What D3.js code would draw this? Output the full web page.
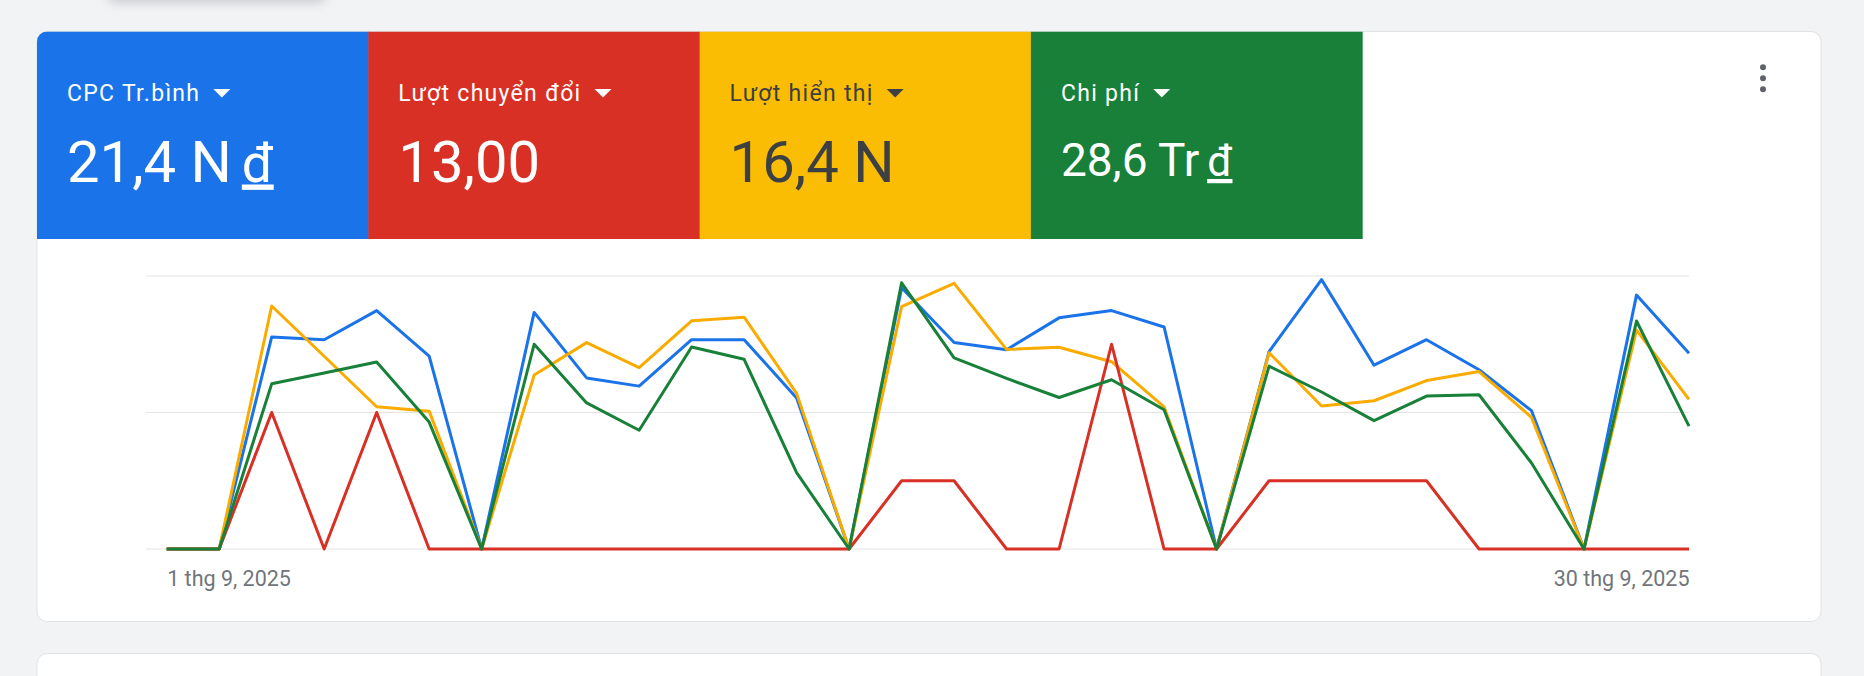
<!DOCTYPE html>
<html>
<head>
<meta charset="utf-8">
<script src="https://cdn.jsdelivr.net/npm/d3@7"></script>
<style>
  html, body { margin: 0; padding: 0; background: #f1f3f4; overflow: hidden; }
  svg { display: block; font-family: Roboto, "Noto Sans", Arial, sans-serif; }
</style>
</head>
<body>
<script>
// days of September 2025
var days = d3.range(1, 31);
var tickLabels = ["1 thg 9, 2025", "30 thg 9, 2025"];

// scorecards
var cardNames = ["CPC Tr.bình", "Lượt chuyển đổi", "Lượt hiển thị", "Chi phí"];
var cardValues = ["21,4 N", "13,00", "16,4 N", "28,6 Tr"];
var cardCurrency = ["đ", "", "", "đ"];

// series values (each metric has its own axis)
var cpc = [0, 0, 23.3, 23.0, 26.2, 21.2, 0, 26.0, 18.8, 17.9, 23.0, 23.0, 16.6, 0, 28.7,
           22.7, 21.9, 25.4, 26.2, 24.4, 0, 21.7, 29.6, 20.2, 23.0, 19.7, 15.2, 0, 27.9, 21.5]; // nghìn đ
var conversions = [0, 0, 2, 0, 2, 0, 0, 0, 0, 0, 0, 0, 0, 0, 1,
                   1, 0, 0, 3, 0, 0, 1, 1, 1, 1, 0, 0, 0, 0, 0];
var impressions = [0, 0, 890, 706, 521, 505, 0, 637, 756, 664, 836, 849, 570, 0, 888,
                   973, 731, 739, 686, 521, 0, 719, 524, 543, 617, 650, 482, 0, 802, 548];
var cost = [0, 0, 1.21, 1.29, 1.37, 0.93, 0, 1.50, 1.07, 0.87, 1.48, 1.39, 0.56, 0, 1.95,
            1.40, 1.25, 1.11, 1.24, 1.02, 0, 1.34, 1.15, 0.94, 1.12, 1.13, 0.63, 0, 1.67, 0.90]; // Tr đ
var axisMax = [30, 4, 1000, 2];

var W = 1864, H = 676;
var svg = d3.select("body").append("svg")
    .attr("width", W)
    .attr("height", H);

var defs = svg.append("defs");
defs.append("filter").attr("id", "blur")
    .attr("x", "-20%").attr("y", "-50%").attr("width", "140%").attr("height", "200%")
  .append("feGaussianBlur").attr("stdDeviation", 5);
defs.append("clipPath").attr("id", "cardclip")
  .append("rect")
    .attr("x", 37).attr("y", 31.5)
    .attr("width", 1784).attr("height", 590)
    .attr("rx", 10);

// blurred element peeking above the card
svg.append("rect")
    .attr("x", 106).attr("y", -40)
    .attr("width", 222).attr("height", 44)
    .attr("rx", 12)
    .attr("fill", "#cfd2d4")
    .attr("filter", "url(#blur)");

// next card below
svg.append("rect")
    .attr("x", 37).attr("y", 653.5)
    .attr("width", 1784).attr("height", 80)
    .attr("rx", 10)
    .attr("fill", "#fff")
    .attr("stroke", "#e0e2e4");

// main card
svg.append("rect")
    .attr("x", 37).attr("y", 31.5)
    .attr("width", 1784).attr("height", 590)
    .attr("rx", 10)
    .attr("fill", "#fff")
    .attr("stroke", "#e0e2e4");

// scorecard tiles
var tileColors = ["#1a73e8", "#d93025", "#fbbc04", "#188038"];
var tileText = ["#fff", "#fff", "#3c4043", "#fff"];
var valueSize = [58, 58, 58, 46];
var valueY = [150, 150, 150, 144.5];
var tx = d3.scaleBand().domain(d3.range(4)).range([37, 37 + 4 * 331.3]);

var tiles = svg.append("g").attr("clip-path", "url(#cardclip)")
  .selectAll("g")
  .data(cardNames)
  .enter().append("g")
    .attr("transform", function(d, i) { return "translate(" + tx(i) + ",31.5)"; });

tiles.append("rect")
    .attr("width", tx.bandwidth() + 0.5)
    .attr("height", 207.5)
    .attr("fill", function(d, i) { return tileColors[i]; });

tiles.append("text")
    .attr("class", "lbl")
    .attr("x", 30).attr("y", 69)
    .attr("font-size", 23)
    .attr("letter-spacing", 1.3)
    .attr("fill", function(d, i) { return tileText[i]; })
    .text(function(d) { return d; });

tiles.each(function(d, i) {
  var g = d3.select(this);
  var w = g.select(".lbl").node().getComputedTextLength();
  var x0 = 30 + w + 13;
  g.append("path")
      .attr("d", "M" + x0 + ",57.5 L" + (x0 + 17) + ",57.5 L" + (x0 + 8.5) + ",66 Z")
      .attr("fill", tileText[i]);
});

var val = tiles.append("text")
    .attr("x", 30)
    .attr("y", function(d, i) { return valueY[i]; })
    .attr("font-size", function(d, i) { return valueSize[i]; })
    .attr("fill", function(d, i) { return tileText[i]; });
val.append("tspan")
    .text(function(d, i) { return cardValues[i]; });
val.append("tspan")
    .attr("dx", function(d, i) { return valueSize[i] * 0.17; })
    .attr("font-size", "0.92em")
    .attr("text-decoration", "underline")
    .text(function(d, i) { return cardCurrency[i]; });

// overflow menu dots
svg.append("g").selectAll("circle")
    .data([67.3, 78.3, 89.3])
  .enter().append("circle")
    .attr("cx", 1763)
    .attr("cy", function(d) { return d; })
    .attr("r", 3)
    .attr("fill", "#5f6368");

// chart
var x = d3.scaleLinear().domain([1, 30]).range([166.7, 1689]);
var yTop = 276, yBot = 549;

var grid = d3.scaleLinear().domain([0, 1]).range([yBot, yTop]);
svg.append("g").selectAll("line")
    .data([0, 0.5, 1])
  .enter().append("line")
    .attr("x1", 146).attr("x2", 1689)
    .attr("y1", function(d) { return grid(d); })
    .attr("y2", function(d) { return grid(d); })
    .attr("stroke", "#e3e3e3")
    .attr("stroke-width", 1.2);

var series = [
  { values: cpc, max: axisMax[0], color: "#1a73e8" },
  { values: impressions, max: axisMax[2], color: "#f9ab00" },
  { values: conversions, max: axisMax[1], color: "#d93025" },
  { values: cost, max: axisMax[3], color: "#188038" }
];

series.forEach(function(s) {
  var y = d3.scaleLinear().domain([0, s.max]).range([yBot, yTop]);
  var line = d3.line()
      .x(function(d, i) { return x(days[i]); })
      .y(function(d) { return y(d); });
  svg.append("path")
      .datum(s.values)
      .attr("d", line)
      .attr("fill", "none")
      .attr("stroke", s.color)
      .attr("stroke-width", 3)
      .attr("stroke-linejoin", "round");
});

var xAxis = d3.axisBottom(x)
    .tickValues([1, 30])
    .tickSize(0)
    .tickPadding(0)
    .tickFormat(function(d, i) { return tickLabels[i]; });

var ax = svg.append("g")
    .attr("transform", "translate(0," + yBot + ")")
    .call(xAxis);
ax.select(".domain").remove();
ax.selectAll("text")
    .attr("y", 36.5)
    .attr("dy", null)
    .attr("font-size", 21.5)
    .attr("font-family", "Roboto, sans-serif")
    .attr("fill", "#70757a")
    .attr("text-anchor", function(d, i) { return i === 0 ? "start" : "end"; });
</script>
</body>
</html>
